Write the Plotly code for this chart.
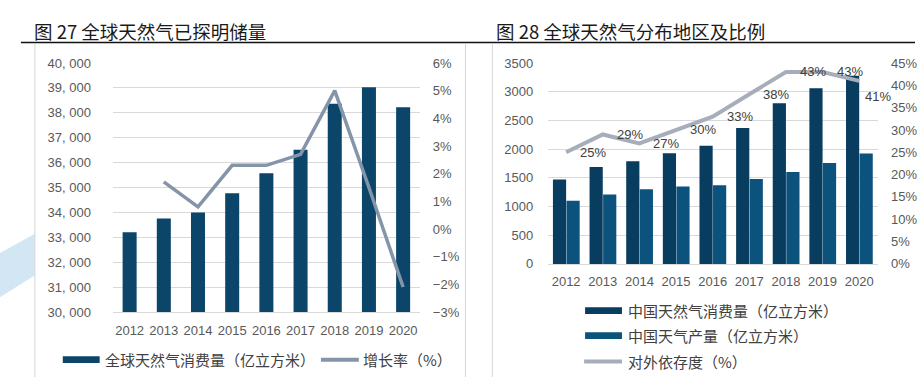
import plotly.graph_objects as go

# ---------------- data ----------------
years = ["2012", "2013", "2014", "2015", "2016", "2017", "2018", "2019", "2020"]

# chart 1
global_consumption = [33200, 33750, 34000, 34770, 35570, 36520, 38360, 39030, 38220]
growth_rate = [None, 1.7, 0.8, 2.3, 2.3, 2.7, 5.0, 1.5, -2.1]
left1_ticks = list(range(30000, 40001, 1000))
left1_text = [f"{v // 1000}, 000" for v in left1_ticks]

# chart 2
china_consumption = [1470, 1690, 1790, 1930, 2060, 2370, 2800, 3060, 3280]
china_production = [1100, 1210, 1300, 1350, 1370, 1480, 1600, 1760, 1925]
dependence = [25, 29, 27, 30, 33, 38, 43, 43, 41]

title1 = "图 27 全球天然气已探明储量"
title2 = "图 28 全球天然气分布地区及比例"
leg1 = ["全球天然气消费量（亿立方米）", "增长率（%）"]
leg2 = ["中国天然气消费量（亿立方米）", "中国天气产量（亿立方米）", "对外依存度（%）"]

# ---------------- style ----------------
W, H = 918, 385
def px(x): return x / W
def py(y): return 1 - y / H

NUM_FONT = "Arial, Liberation Sans, sans-serif"
CJK_FONT = "Noto Sans CJK SC, sans-serif"
TICK_COL = "#595959"
GRID = "#d9d9d9"
BAR1 = "#0b466a"
BAR2A = "#083d60"
BAR2B = "#0b527c"
LINE1 = "#8595a9"
LINE2 = "#a7aebb"
NCAT = len(years)

fig = go.Figure()

# chart 1
fig.add_trace(go.Bar(x=years, y=global_consumption, xaxis="x", yaxis="y",
                     marker=dict(color=BAR1, line=dict(width=0)),
                     width=0.41, showlegend=False, name=leg1[0]))
fig.add_trace(go.Scatter(x=years, y=growth_rate, xaxis="x", yaxis="y2", mode="lines",
                         line=dict(color=LINE1, width=3.5), showlegend=False, name=leg1[1]))

# chart 2
fig.add_trace(go.Bar(x=years, y=china_consumption, xaxis="x2", yaxis="y3",
                     marker=dict(color=BAR2A, line=dict(width=0)),
                     width=0.36, offset=-0.36, showlegend=False, name=leg2[0]))
fig.add_trace(go.Bar(x=years, y=china_production, xaxis="x2", yaxis="y3",
                     marker=dict(color=BAR2B, line=dict(width=0)),
                     width=0.36, offset=0.01, showlegend=False, name=leg2[1]))
fig.add_trace(go.Scatter(x=years, y=dependence, xaxis="x2", yaxis="y4", mode="lines",
                         line=dict(color=LINE2, width=4), showlegend=False, name=leg2[2]))

tickfont = dict(family=NUM_FONT, size=13, color=TICK_COL)
dom1x = [px(112.9), px(421.6)]
dom1y = [py(317.3), py(58.3)]
dom2x = [px(549.6), px(880.4)]
dom2y = [py(267.3), py(58.3)]
xr = [-0.5, NCAT - 0.5]

fig.update_layout(
    width=W, height=H, margin=dict(l=0, r=0, t=0, b=0),
    paper_bgcolor="white", plot_bgcolor="white",
    barmode="overlay",
    xaxis=dict(domain=dom1x, anchor="y", type="category", range=xr, tickfont=tickfont,
               showgrid=False, showline=True, linecolor=GRID, linewidth=1,
               ticks="outside", ticklen=6, tickcolor="rgba(0,0,0,0)"),
    yaxis=dict(domain=dom1y, anchor="x", range=[30000, 40000],
               tickvals=left1_ticks, ticktext=left1_text, tickfont=tickfont,
               showgrid=True, gridcolor=GRID, gridwidth=1, zeroline=False,
               ticks="outside", ticklen=18, tickcolor="rgba(0,0,0,0)"),
    yaxis2=dict(overlaying="y", side="right", anchor="x", range=[-3, 6], dtick=1,
                ticksuffix="%", tickfont=tickfont, showgrid=False, zeroline=False,
                ticks="outside", ticklen=9, tickcolor="rgba(0,0,0,0)"),
    xaxis2=dict(domain=dom2x, anchor="y3", type="category", range=xr, tickfont=tickfont,
                showgrid=False, showline=True, linecolor=GRID, linewidth=1,
                ticks="outside", ticklen=6, tickcolor="rgba(0,0,0,0)"),
    yaxis3=dict(domain=dom2y, anchor="x2", range=[0, 3500], dtick=500, tickfont=tickfont,
                showgrid=True, gridcolor=GRID, gridwidth=1, zeroline=False,
                ticks="outside", ticklen=11, tickcolor="rgba(0,0,0,0)"),
    yaxis4=dict(overlaying="y3", side="right", anchor="x2", range=[0, 45], dtick=5,
                ticksuffix="%", tickfont=tickfont, showgrid=False, zeroline=False,
                ticks="outside", ticklen=10, tickcolor="rgba(0,0,0,0)"),
)

ann = []
# data labels for chart 2 (offset right of the points as in the reference)
for i, v in enumerate(dependence):
    last = i == NCAT - 1
    ann.append(dict(x=i, y=v, xref="x2", yref="y4", text=f"{v}%", showarrow=False,
                    xshift=19 if last else 27, yshift=-16 if last else 0,
                    font=dict(family=NUM_FONT, size=13, color="#404040")))

# titles
titlefont = dict(family=CJK_FONT, size=18.5, color="#1a1a1a")
ann.append(dict(x=px(32), y=py(25), xref="paper", yref="paper", xanchor="left", yanchor="middle",
                text=title1, showarrow=False, font=titlefont))
ann.append(dict(x=px(496), y=py(25), xref="paper", yref="paper", xanchor="left", yanchor="middle",
                text=title2, showarrow=False, font=titlefont))

legfont = dict(family=CJK_FONT, size=15, color="#404040")
# legend chart 1
ann.append(dict(x=px(103), y=py(367), xref="paper", yref="paper", xanchor="left", yanchor="middle",
                text=leg1[0], showarrow=False, font=legfont))
ann.append(dict(x=px(362), y=py(367), xref="paper", yref="paper", xanchor="left", yanchor="middle",
                text=leg1[1], showarrow=False, font=legfont))
# legend chart 2
for yy, t in zip([316, 342, 369], leg2):
    ann.append(dict(x=px(628), y=py(yy), xref="paper", yref="paper", xanchor="left", yanchor="middle",
                    text=t, showarrow=False, font=legfont))

shapes = []
# decorative watermark swoosh
shapes.append(dict(type="path", xref="paper", yref="paper",
                   path=f"M {px(0)} {py(256)} L {px(35)} {py(236)} L {px(35)} {py(279)} L {px(0)} {py(302)} Z",
                   fillcolor="#d3e6f4", line=dict(width=0), layer="below"))
# header rule and frame lines
shapes.append(dict(type="line", xref="paper", yref="paper", x0=px(21), x1=1, y0=py(37), y1=py(37),
                   line=dict(color="#111111", width=1.5)))
for xv in [35, 467, 494]:
    shapes.append(dict(type="line", xref="paper", yref="paper", x0=px(xv), x1=px(xv),
                       y0=py(38), y1=0, line=dict(color="#d6d6d6", width=1)))
# legend keys chart 1
shapes.append(dict(type="rect", xref="paper", yref="paper", x0=px(63), x1=px(100), y0=py(370.5), y1=py(363.5),
                   fillcolor=BAR1, line=dict(width=0)))
shapes.append(dict(type="line", xref="paper", yref="paper", x0=px(322), x1=px(360), y0=py(367), y1=py(367),
                   line=dict(color=LINE1, width=4)))
# legend keys chart 2
shapes.append(dict(type="rect", xref="paper", yref="paper", x0=px(587), x1=px(624), y0=py(319.5), y1=py(312.5),
                   fillcolor=BAR2A, line=dict(width=0)))
shapes.append(dict(type="rect", xref="paper", yref="paper", x0=px(587), x1=px(624), y0=py(345.5), y1=py(338.5),
                   fillcolor=BAR2B, line=dict(width=0)))
shapes.append(dict(type="line", xref="paper", yref="paper", x0=px(586), x1=px(624), y0=py(369), y1=py(369),
                   line=dict(color=LINE2, width=4)))

fig.update_layout(annotations=ann, shapes=shapes)
fig.write_html("out.html", config={"displayModeBar": False},
               post_script="document.body.style.margin='0';")
